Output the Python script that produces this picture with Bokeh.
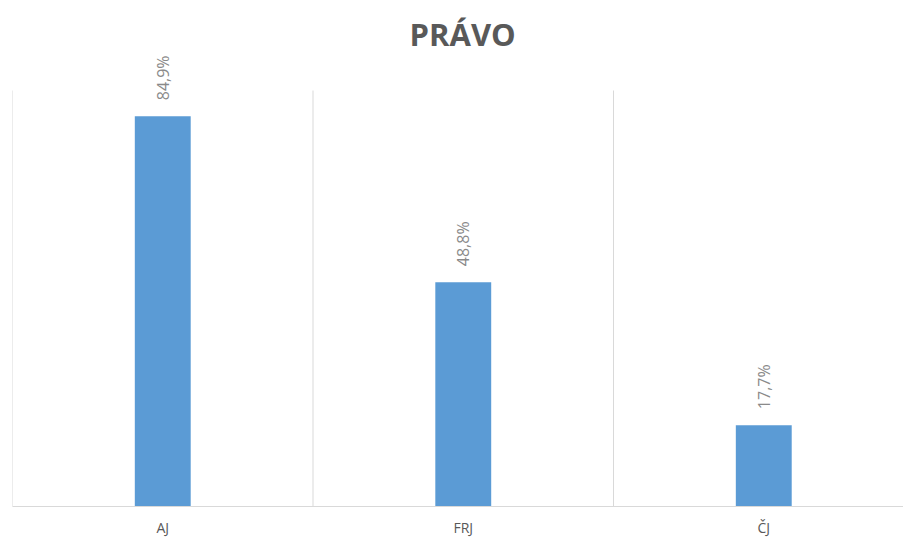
from bokeh.plotting import figure
from bokeh.models import ColumnDataSource, Range1d, FixedTicker, Label
from bokeh.core.properties import value
from bokeh.embed import file_html
from bokeh.resources import INLINE
import math

categories = ["AJ", "FRJ", "ČJ"]
values = [84.9, 48.8, 17.7]
labels = ["84,9%", "48,8%", "17,7%"]
title_text = "PRÁVO"
y_max = 90.5

xs = list(range(len(categories)))
src = ColumnDataSource(dict(x=xs, top=values, lab=labels))

frame_h = 506
px_per_unit = 416 / y_max
y_end = frame_h / px_per_unit

p = figure(width=903, height=541, output_backend="svg", toolbar_location=None,
           x_range=Range1d(-0.5, 2.465), y_range=Range1d(0, y_end),
           min_border_left=12, min_border_right=0, min_border_top=0, min_border_bottom=35)
p.outline_line_color = None
p.background_fill_color = "white"
p.border_fill_color = "white"
p.xgrid.visible = False
p.ygrid.visible = False
p.yaxis.visible = False

# category separators (gridlines between categories)
bounds = [i - 0.5 for i in range(len(categories) + 1)]
p.segment(x0=bounds, y0=[0] * len(bounds), x1=bounds, y1=[y_max] * len(bounds),
          line_color="#d9d9d9", line_width=1)

p.vbar(x="x", top="top", bottom=0, width=0.186, source=src,
       fill_color="#5b9bd5", line_color=None)

p.text(x="x", y="top", text="lab", source=src, angle=math.pi / 2,
       text_align="left", text_baseline="middle", x_offset=0, y_offset=-16,
       text_font=value("Open Sans"), text_font_size="16px", text_color="#8a8a8a")

ax = p.xaxis[0]
ax.ticker = FixedTicker(ticks=xs)
ax.major_label_overrides = {i: c for i, c in zip(xs, categories)}
ax.axis_line_color = "#d9d9d9"
ax.axis_line_width = 1
ax.major_tick_line_color = None
ax.minor_tick_line_color = None
ax.major_label_standoff = 5
ax.major_label_text_font = "Open Sans"
ax.major_label_text_font_size = "14px"
ax.major_label_text_color = "#595959"

p.add_layout(Label(x=0.998, y=y_end - 33 / px_per_unit, text=title_text, text_align="center",
                   text_baseline="middle", text_font="Open Sans", text_font_style="bold",
                   text_font_size="31px", text_color="#595959"))

open("out.html", "w").write(file_html(p, INLINE))
